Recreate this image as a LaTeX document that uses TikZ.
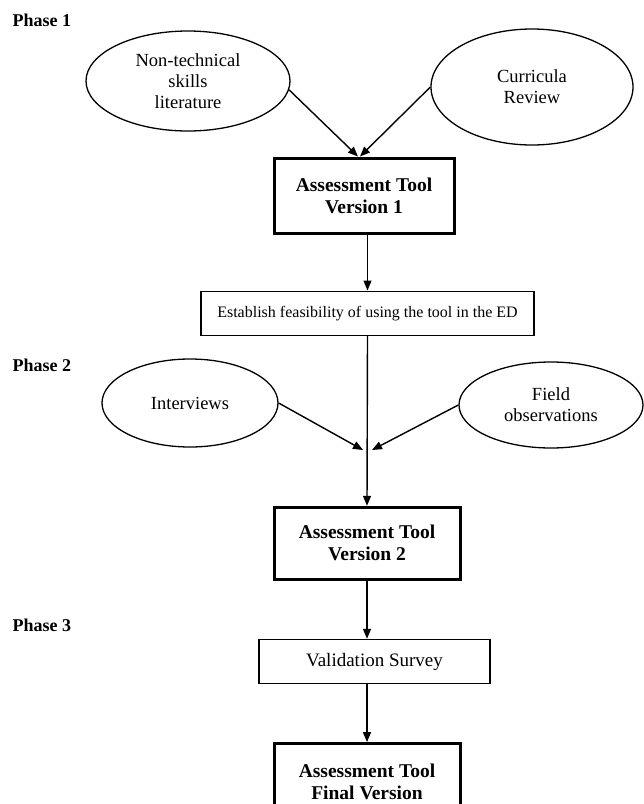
\documentclass[tikz,border=0pt]{standalone}
\usepackage{fontspec}
\setmainfont{Liberation Serif}
\usetikzlibrary{arrows.meta, positioning, shapes.geometric, calc}

\begin{document}
\begin{tikzpicture}[x=1pt, y=1pt, ->, >={Triangle[length=10pt, width=8pt]}, line width=1.4pt, node distance=56pt]
  \tikzset{
    source/.style={ellipse, draw, line width=1.3pt, inner sep=0pt, align=center, font=\fontsize{18.5}{21}\selectfont},
    toolbox/.style={rectangle, draw, line width=3pt, minimum width=186pt, minimum height=76pt, align=center, font=\bfseries\fontsize{19.5}{22}\selectfont},
    stepbox/.style={rectangle, draw, line width=1.3pt, minimum height=44pt},
    phase/.style={anchor=west, inner sep=0pt, font=\bfseries\fontsize{18}{20}\selectfont}
  }
  \useasboundingbox (0,0) rectangle (644,-804);

  % Define the nodes
  \node[phase] (p1) at (12,-20) {Phase 1};
  \node[phase] (p2) at (12,-365) {Phase 2};
  \node[phase] (p3) at (12,-625) {Phase 3};

  \node[source, minimum width=204pt, minimum height=100pt] (lit) at (188,-81) {Non-technical\\skills\\literature};
  \node[source, minimum width=202pt, minimum height=116pt] (cur) at (532,-87) {Curricula\\Review};
  \node[toolbox, minimum width=180pt, minimum height=75pt] (v1) at (364,-195.5) {Assessment Tool\\Version 1};
  \node[stepbox, minimum width=333pt, font=\fontsize{16}{19}\selectfont] (ed) [below=of v1, xshift=3.5pt] {Establish feasibility of using the tool in the ED};

  \node[source, minimum width=176pt, minimum height=88pt] (intv) at (190,-403) {Interviews};
  \node[source, minimum width=184pt, minimum height=86pt] (field) at (551,-405) {Field\\observations};
  \coordinate (join) at (367,-450);

  \node[toolbox, minimum height=72pt] (v2) [below=170pt of ed, xshift=-0.5pt] {Assessment Tool\\Version 2};
  \node[stepbox, minimum width=231pt, font=\fontsize{19}{21}\selectfont] (survey) [below=58pt of v2, xshift=7.5pt] {Validation Survey};
  \node[toolbox] (final) [below=58pt of survey, xshift=-7.5pt] {Assessment Tool\\Final Version};

  % Draw the edges
  \draw (lit.-5) -- ([xshift=-6pt]v1.north);
  \draw (cur.west) -- ([xshift=-4pt]v1.north);
  \draw (v1.south -| ed.north) -- (ed.north);
  \draw (ed.south) -- (v2.north);
  \draw (intv.east) -- ([xshift=-4pt]join);
  \draw (field.west) -- ([xshift=5pt]join);
  \draw (v2.south) -- (v2.south |- survey.north);
  \draw (v2.south |- survey.south) -- (final.north);
\end{tikzpicture}
\end{document}
